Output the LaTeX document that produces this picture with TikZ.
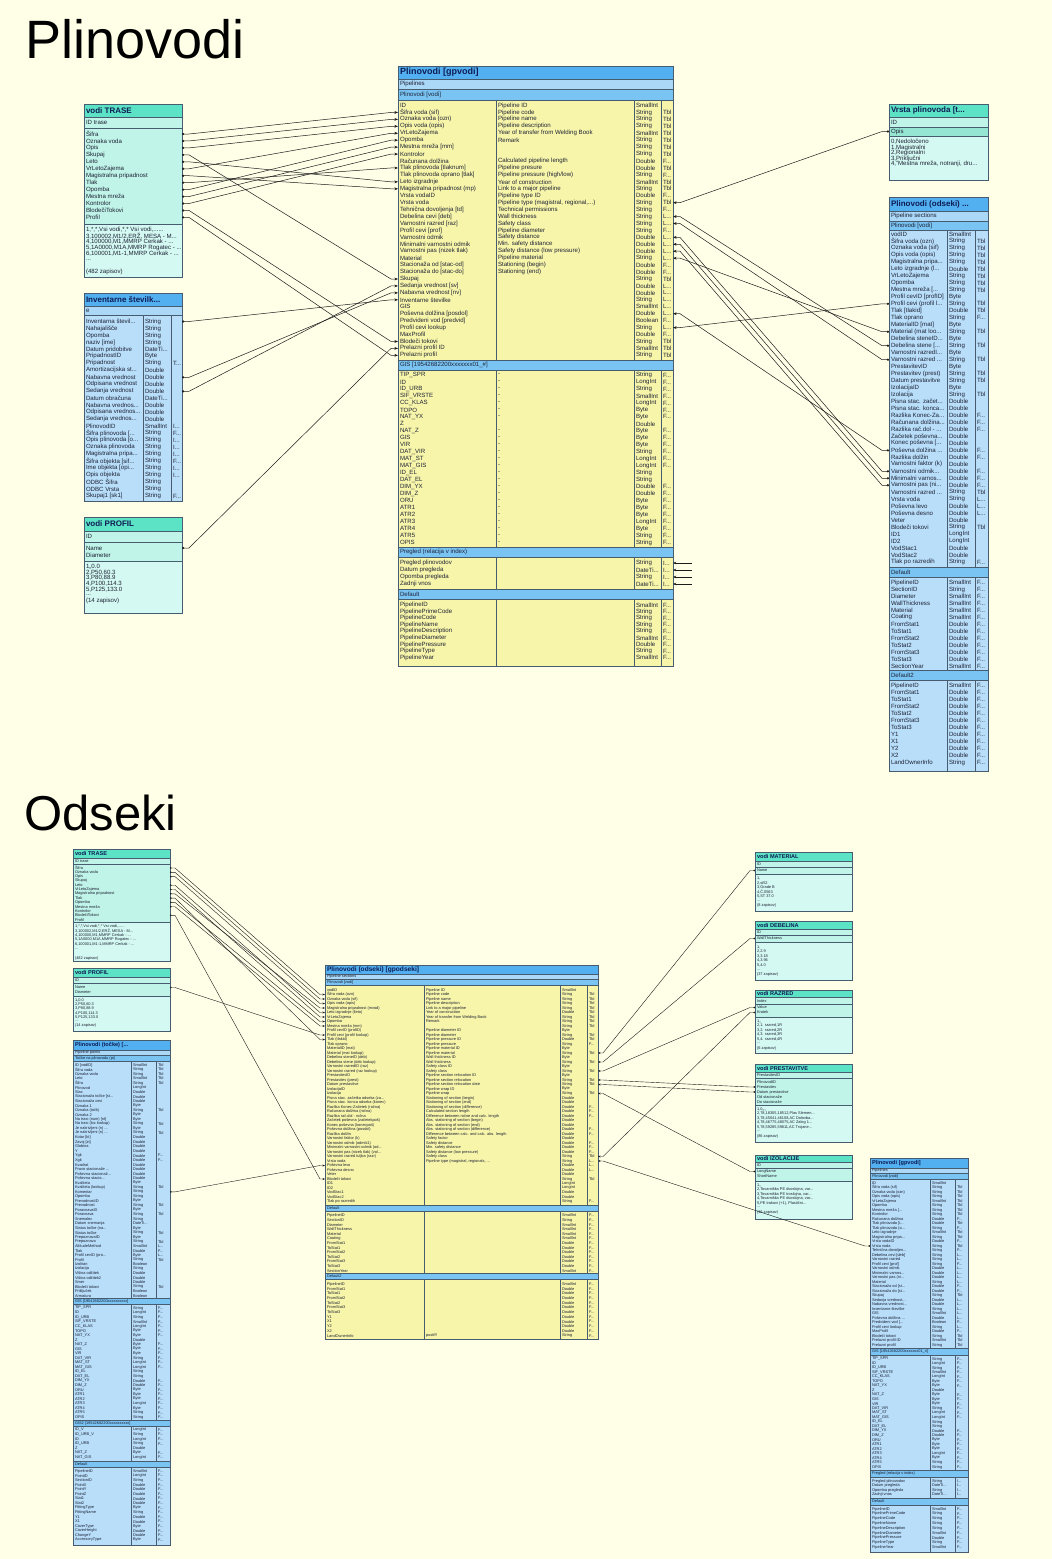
\documentclass[tikz,border=0pt]{standalone}
\usepackage{fontspec}
\setmainfont{Liberation Sans}
\usetikzlibrary{arrows.meta,calc}

\definecolor{paper}{RGB}{255,254,231}
\definecolor{edge}{RGB}{72,92,112}
\definecolor{wire}{RGB}{28,28,28}
\definecolor{tealhead}{RGB}{92,226,196}
\definecolor{tealbody}{RGB}{192,244,232}
\definecolor{tealsel}{RGB}{150,230,212}
\definecolor{tealdata}{RGB}{212,249,242}
\definecolor{bluehead}{RGB}{82,176,240}
\definecolor{bluelight}{RGB}{172,216,248}
\definecolor{bluesect}{RGB}{122,196,244}
\definecolor{bluebody}{RGB}{184,222,250}
\definecolor{yelbody}{RGB}{247,245,170}
\definecolor{navy}{RGB}{14,28,84}
\definecolor{ink}{RGB}{30,34,52}

\newcommand\trunc{...}
\newcommand\fldsize{6.1}
\newcommand\ttlsize{8.5}

\tikzset{
  fld/.style={anchor=west,inner sep=0pt,outer sep=0pt,text=ink,
    font=\fontsize{\fldsize}{\fldsize}\selectfont},
  ttl/.style={anchor=west,inner sep=0pt,outer sep=0pt,text=navy,
    font=\bfseries\fontsize{\ttlsize}{\ttlsize}\selectfont},
  band/.style={draw=edge,line width=0.5pt,inner sep=0pt,outer sep=0pt},
  colline/.style={draw=edge,line width=0.45pt},
  link/.style={draw=wire,line width=0.5pt},
  toL/.style={link,{Circle[length=2.2pt]}-{Stealth[length=3.6pt,width=2.8pt]}},
  toR/.style={link,{Stealth[length=3.6pt,width=2.8pt]}-{Circle[length=2.2pt]}},
  stoL/.style={link,line width=0.4pt,{Circle[length=1.6pt]}-{Stealth[length=2.6pt,width=2pt]}},
  stoR/.style={link,line width=0.4pt,{Stealth[length=2.6pt,width=2pt]}-{Circle[length=1.6pt]}},
}

% a filled, framed strip of a table
\newcommand\band[6]{%
  \node[band,fill=#6,minimum width={(#4-#2)*1pt},minimum height={(#5-#3)*1pt}]
    (#1) at ({(#2+#4)/2},{(#3+#5)/2}) {};}
% strip with a bold caption
\newcommand\bandt[7]{\band{#1}{#2}{#3}{#4}{#5}{#6}%
  \node[ttl] (#1-txt) at ([xshift=2pt]#1.west) {#7};}
% strip with a plain caption
\newcommand\bandl[7]{\band{#1}{#2}{#3}{#4}{#5}{#6}%
  \node[fld] (#1-txt) at ([xshift=2pt]#1.west) {#7};}
% column rules
\newcommand\cols[3]{\foreach \cx in {#3}{\draw[colline] (\cx,#1) -- (\cx,#2);}}

% field rows: one, three or four columns
\newcommand\rowsA[5]{%
  \foreach \ra [count=\ri] in {#5}{%
    \node[fld] (#1-\ri) at (#2,{#3+(\ri-1)*#4}) {\ra};}}
\newcommand\rowsC[7]{%
  \foreach \ra/\rb/\rc [count=\ri] in {#7}{%
    \pgfmathsetmacro\ry{#5+(\ri-1)*#6}%
    \node[fld] (#1-\ri) at (#2,\ry) {\ra};
    \node[fld] (#1-\ri-t) at (#3,\ry) {\rb};
    \node[fld] (#1-\ri-f) at (#4,\ry) {\rc};}}
\newcommand\rowsCm[7]{%
  \foreach \ra/\rb/\rc [count=\ri] in #7{%
    \pgfmathsetmacro\ry{#5+(\ri-1)*#6}%
    \node[fld] (#1-\ri) at (#2,\ry) {\ra};
    \node[fld] (#1-\ri-t) at (#3,\ry) {\rb};
    \node[fld] (#1-\ri-f) at (#4,\ry) {\rc};}}
\newcommand\rowsD[8]{%
  \foreach \ra/\rb/\rc/\rd [count=\ri] in {#8}{%
    \pgfmathsetmacro\ry{#6+(\ri-1)*#7}%
    \node[fld] (#1-\ri) at (#2,\ry) {\ra};
    \node[fld] (#1-\ri-d) at (#3,\ry) {\rb};
    \node[fld] (#1-\ri-t) at (#4,\ry) {\rc};
    \node[fld] (#1-\ri-f) at (#5,\ry) {\rd};}}

% relationship line with short horizontal stubs at both tables
\newcommand\wire[4][7]{\draw[#2] (#3) -- ++(#1,0) -- ($(#4)+(-#1,0)$) -- (#4);}

% shared field lists
\newcommand\gisrows{TIP\_SPR/String/F\trunc, ID/LongInt/F\trunc, ID\_URB/String/F\trunc,
  SIF\_VRSTE/SmallInt/F\trunc, CC\_KLAS/LongInt/F\trunc, TOPO/Byte/F\trunc,
  NAT\_YX/Byte/F\trunc, Z/Double/{}, NAT\_Z/Byte/F\trunc, GIS/Byte/F\trunc,
  VIR/Byte/F\trunc, DAT\_VIR/String/F\trunc, MAT\_ST/LongInt/F\trunc,
  MAT\_GIS/LongInt/F\trunc, ID\_EL/String/{}, DAT\_EL/String/{},
  DIM\_YX/Double/F\trunc, DIM\_Z/Double/F\trunc, ORU/Byte/F\trunc,
  ATR1/Byte/F\trunc, ATR2/Byte/F\trunc, ATR3/LongInt/F\trunc,
  ATR4/Byte/F\trunc, ATR5/String/F\trunc, OPIS/String/F\trunc}

\begin{document}
\begin{tikzpicture}[x=1pt,y=-1pt]
\useasboundingbox (0,0) rectangle (1052,1559);
\fill[paper] (0,0) rectangle (1052,1559);

\node[anchor=base west,inner sep=0pt,font=\fontsize{54}{54}\selectfont] (plinTitle) at (25,58) {Plinovodi};
\node[anchor=base west,inner sep=0pt,font=\fontsize{49}{49}\selectfont] (odsTitle) at (24,830) {Odseki};

%================ upper diagram ================
%---- Plinovodi [gpvodi]
\renewcommand\ttlsize{9}
\bandt{gpH}{398}{66}{673}{79}{bluehead}{Plinovodi [gpvodi]}
\bandl{gpP}{398}{79}{673}{89}{bluelight}{Pipelines}
\bandl{gpS}{398}{89}{673}{100}{bluesect}{Plinovodi [vodi]}
\band{gpA}{398}{100}{673}{360}{yelbody}
\cols{100}{360}{496,634,661}
\rowsD{gp}{400}{498}{636}{663}{105.5}{6.94}{
 ID/Pipeline ID/SmallInt/{},
 Šifra voda (sif)/Pipeline code/String/Tbl,
 Oznaka voda (ozn)/Pipeline name/String/Tbl,
 Opis voda (opis)/Pipeline description/String/Tbl,
 VrLetoZajema/Year of transfer from Welding Book/SmallInt/Tbl,
 Opomba/Remark/String/Tbl,
 Mestna mreža [mm]/{}/String/Tbl,
 Kontrolor/{}/String/Tbl,
 Računana dolžina/Calculated pipeline length/Double/F\trunc,
 Tlak plinovoda [tlaknum]/Pipeline presure/Double/Tbl,
 Tlak plinovoda oprano [tlak]/Pipeline pressure (high\slash low)/String/F\trunc,
 Leto izgradnje/Year of construction/SmallInt/Tbl,
 Magistralna pripadnost (mp)/Link to a major pipeline/String/Tbl,
 Vrsta vodaID/Pipeline type ID/Double/F\trunc,
 Vrsta voda/Pipeline type (magistral{,} regional{,}\trunc)/String/Tbl,
 Tehnična dovoljenja [td]/Technical permissions/String/F\trunc,
 Debelina cevi [deb]/Wall thickness/String/L\trunc,
 Varnostni razred [raz]/Safety class/String/L\trunc,
 Profil cevi [prof]/Pipeline diameter/String/F\trunc,
 Varnostni odmik/Safety distance/Double/L\trunc,
 Minimalni varnostni odmik/Min. safety distance/Double/L\trunc,
 Varnostni pas (nizek tlak)/Safety distance (low pressure)/Double/L\trunc,
 Material/Pipeline material/String/L\trunc,
 Stacionaža od [stac-od]/Stationing (begin)/Double/F\trunc,
 Stacionaža do [stac-do]/Stationing (end)/Double/F\trunc,
 Skupaj/{}/String/Tbl,
 Sedanja vrednost [sv]/{}/Double/L\trunc,
 Nabavna vrednost [nv]/{}/Double/L\trunc,
 Inventarne številke/{}/String/L\trunc,
 GIS/{}/SmallInt/L\trunc,
 Poševna dolžina [posdol]/{}/Double/L\trunc,
 Predvideni vod [predvid]/{}/Boolean/F\trunc,
 Profil cevi lookup/{}/String/L\trunc,
 MaxProfil/{}/Double/F\trunc,
 Blodeči tokovi/{}/String/Tbl,
 Prelazni profil ID/{}/SmallInt/Tbl,
 Prelazni profil/{}/String/Tbl}
\bandl{gpG}{398}{360}{673}{370}{bluesect}{GIS [19542682200xxxxxxx01\_\#]}
\band{gpB}{398}{370}{673}{547}{yelbody}
\cols{370}{547}{496,634,661}
\rowsD{gs}{400}{498}{636}{663}{375}{6.98}{
 TIP\_SPR/-/String/F\trunc, ID/-/LongInt/F\trunc, ID\_URB/-/String/F\trunc,
 SIF\_VRSTE/-/SmallInt/F\trunc, CC\_KLAS/-/LongInt/F\trunc, TOPO/-/Byte/F\trunc,
 NAT\_YX/-/Byte/F\trunc, Z/{}/Double/{}, NAT\_Z/-/Byte/F\trunc, GIS/-/Byte/F\trunc,
 VIR/-/Byte/F\trunc, DAT\_VIR/-/String/F\trunc, MAT\_ST/-/LongInt/F\trunc,
 MAT\_GIS/-/LongInt/F\trunc, ID\_EL/-/String/{}, DAT\_EL/-/String/{},
 DIM\_YX/-/Double/F\trunc, DIM\_Z/-/Double/F\trunc, ORU/-/Byte/F\trunc,
 ATR1/-/Byte/F\trunc, ATR2/-/Byte/F\trunc, ATR3/-/LongInt/F\trunc,
 ATR4/-/Byte/F\trunc, ATR5/-/String/F\trunc, OPIS/-/String/F\trunc}
\bandl{gpR}{398}{547}{673}{557}{bluesect}{Pregled (relacija v index)}
\band{gpC}{398}{557}{673}{589}{yelbody}
\cols{557}{589}{496,634,661}
\rowsD{pg}{400}{498}{636}{663}{563}{7}{
 Pregled plinovodov/{}/String/I\trunc, Datum pregleda/{}/DateTi\trunc/I\trunc,
 Opomba pregleda/{}/String/I\trunc, Zadnji vnos/{}/DateTi\trunc/I\trunc}
\bandl{gpD}{398}{589}{673}{599}{bluesect}{Default}
\band{gpE}{398}{599}{673}{666}{yelbody}
\cols{599}{666}{496,634,661}
\rowsD{df}{400}{498}{636}{663}{605}{6.6}{
 PipelineID/{}/SmallInt/F\trunc, PipelinePrimeCode/{}/String/F\trunc,
 PipelineCode/{}/String/F\trunc, PipelineName/{}/String/F\trunc,
 PipelineDescription/{}/String/F\trunc, PipelineDiameter/{}/SmallInt/F\trunc,
 PipelinePressure/{}/Double/F\trunc, PipelineType/{}/String/F\trunc,
 PipelineYear/{}/SmallInt/F\trunc}

%---- vodi TRASE
\renewcommand\ttlsize{8}
\bandt{trH}{84}{104}{182}{117}{tealhead}{vodi TRASE}
\bandl{trI}{84}{117}{182}{128}{tealbody}{ID trase}
\band{trA}{84}{128}{182}{224}{tealbody}
\rowsA{tr}{86}{134}{6.95}{Šifra, Oznaka voda, Opis, Skupaj, Leto, VrLetoZajema,
 Magistralna pripadnost, Tlak, Opomba, Mestna mreža, Kontrolor, BlodečiTokovi, Profil}
\band{trD}{84}{224}{182}{277}{tealdata}
\rowsA{trd}{86}{230}{6}{{1,*,*,Vsi vodi,*,* Vsi vodi,\trunc\trunc},
 {3,100002,M1/2,ERŽ, MESA - M\trunc}, {4,100000,M1,MMRP Cerkak - \trunc},
 {5,1A0000,M1A,MMRP Rogatec - \trunc}, {6,100001,M1-1,MMRP Cerkak - \trunc},
 \trunc, {}, (482 zapisov)}

%---- Inventarne številke
\bandt{inH}{84}{293}{182}{306}{bluehead}{Inventarne številk\trunc}
\bandl{inI}{84}{306}{182}{315}{bluelight}{e}
\band{inA}{84}{315}{182}{501}{bluebody}
\cols{315}{501}{143,171}
\rowsC{in}{86}{145}{173}{321.5}{6.98}{
 Inventarna števil\trunc/String/{}, Nahajališče/String/{}, Opomba/String/{},
 naziv [ime]/String/{}, Datum pridobitve/DateTi\trunc/{}, PripadnostID/Byte/{},
 Pripadnost/String/T\trunc, Amortizacijska st\trunc/Double/{},
 Nabavna vrednost/Double/{}, Odpisana vrednost/Double/{}, Sedanja vrednost/Double/{},
 Datum obračuna/DateTi\trunc/{}, Nabavna vrednos\trunc/Double/{},
 Odpisana vrednos\trunc/Double/{}, Sedanja vrednos\trunc/Double/{},
 PlinovodID/SmallInt/I\trunc, Šifra plinovoda [\trunc/String/F\trunc,
 Opis plinovoda [o\trunc/String/I\trunc, Oznaka plinovoda/String/I\trunc,
 Magistralna pripa\trunc/String/I\trunc, Šifra objekta [sif\trunc/String/F\trunc,
 Ime objekta [opi\trunc/String/I\trunc, Opis objekta/String/I\trunc,
 ODBC Šifra/String/{}, ODBC Vrsta/String/{}, Skupaj1 [sk1]/String/F\trunc}

%---- vodi PROFIL
\bandt{prH}{84}{517}{182}{531}{tealhead}{vodi PROFIL}
\bandl{prI}{84}{531}{182}{542}{tealbody}{ID}
\band{prA}{84}{542}{182}{561}{tealbody}
\rowsA{pr}{86}{548}{7}{Name, Diameter}
\band{prD}{84}{561}{182}{613}{tealdata}
\rowsA{prd}{86}{567}{5.6}{{1,,0.0}, {2,P50,60.3}, {3,P80,88.9}, {4,P100,114.3},
 {5,P125,133.0}, \trunc, (14 zapisov)}

%---- Vrsta plinovoda
\bandt{vrH}{889}{104}{988}{117}{tealhead}{Vrsta plinovoda [t\trunc}
\bandl{vrI}{889}{117}{988}{127}{tealbody}{ID}
\bandl{vrO}{889}{127}{988}{136}{tealsel}{Opis}
\band{vrD}{889}{136}{988}{180}{tealdata}
\rowsA{vrd}{891}{142}{5.6}{{0,Nedoločeno}, {1,Magistralni}, {2,Regionalni},
 {3,Priključni}, {4,"Mestna mreža, notranji, dru\trunc}}

%---- Plinovodi (odseki)
\bandt{odH}{889}{197}{988}{211}{bluehead}{Plinovodi (odseki) \trunc}
\bandl{odP}{889}{211}{988}{221}{bluelight}{Pipeline sections}
\bandl{odS}{889}{221}{988}{230}{bluesect}{Plinovodi [vodi]}
\band{odA}{889}{230}{988}{567}{bluebody}
\cols{230}{567}{947,975}
\rowsC{od}{891}{949}{977}{234}{6.98}{
 vodID/SmallInt/{}, Šifra voda (ozn)/String/Tbl, Oznaka voda (sif)/String/Tbl,
 Opis voda (opis)/String/Tbl, Magistralna pripa\trunc/String/Tbl,
 Leto izgradnje (l\trunc/Double/Tbl, VrLetoZajema/String/Tbl, Opomba/String/Tbl,
 Mestna mreža [\trunc/String/Tbl, Profil cevID [profID]/Byte/{},
 Profil cevi (profil l\trunc/String/Tbl, Tlak [tlakid]/Double/Tbl,
 Tlak oprano/String/F\trunc, MaterialID [mat]/Byte/{},
 Material (mat loo\trunc/String/Tbl, Debelina steneID\trunc/Byte/{},
 Debelina stene [\trunc/String/Tbl, Varnostni razredI\trunc/Byte/{},
 Varnostni razred \trunc/String/Tbl, PrestavitevID/Byte/{},
 Prestavitev (prest)/String/Tbl, Datum prestavitve/String/Tbl,
 IzolacijaID/Byte/{}, Izolacija/String/Tbl, Pisna stac. začet\trunc/Double/{},
 Pisna stac. konca\trunc/Double/{}, Razlika Konec-Za\trunc/Double/F\trunc,
 Računana dolžina\trunc/Double/F\trunc, Razlika rač.dol - \trunc/Double/F\trunc,
 Začetek poševna\trunc/Double/{}, Konec poševna [\trunc/Double/{},
 Poševna dolžina \trunc/Double/F\trunc, Razlika dolžin/Double/F\trunc,
 Varnostni faktor (k)/Double/{}, Varnostni odmik\trunc/Double/F\trunc,
 Minimalni varnos\trunc/Double/F\trunc, Varnostni pas (ni\trunc/Double/F\trunc,
 Varnostni razred \trunc/String/Tbl, Vrsta voda/String/L\trunc,
 Poševna levo/Double/L\trunc, Poševna desno/Double/L\trunc, Veter/Double/{},
 Blodeči tokovi/String/Tbl, ID1/LongInt/{}, ID2/LongInt/{}, VodStac1/Double/{},
 VodStac2/Double/{}, Tlak po razredih/String/F\trunc}
\bandl{odD}{889}{567}{988}{577}{bluesect}{Default}
\band{odB}{889}{577}{988}{670}{bluebody}
\cols{577}{670}{947,975}
\rowsC{oe}{891}{949}{977}{582.5}{6.95}{
 PipelineID/SmallInt/F\trunc, SectionID/String/F\trunc, Diameter/SmallInt/F\trunc,
 WallThickness/SmallInt/F\trunc, Material/SmallInt/F\trunc, Coating/SmallInt/F\trunc,
 FromStat1/Double/F\trunc, ToStat1/Double/F\trunc, FromStat2/Double/F\trunc,
 ToStat2/Double/F\trunc, FromStat3/Double/F\trunc, ToStat3/Double/F\trunc,
 SectionYear/SmallInt/F\trunc}
\bandl{odE}{889}{670}{988}{680}{bluesect}{Default2}
\band{odC}{889}{680}{988}{771}{bluebody}
\cols{680}{771}{947,975}
\rowsC{of}{891}{949}{977}{685.5}{7}{
 PipelineID/SmallInt/F\trunc, FromStat1/Double/F\trunc, ToStat1/Double/F\trunc,
 FromStat2/Double/F\trunc, ToStat2/Double/F\trunc, FromStat3/Double/F\trunc,
 ToStat3/Double/F\trunc, Y1/Double/F\trunc, X1/Double/F\trunc, Y2/Double/F\trunc,
 X2/Double/F\trunc, LandOwnerInfo/String/F\trunc}

%---- relationships, upper diagram
\wire{toL}{trA.east |- tr-1}{gpA.west |- gp-2}
\wire{toL}{trA.east |- tr-2}{gpA.west |- gp-3}
\wire{toL}{trA.east |- tr-3}{gpA.west |- gp-4}
\wire{toL}{trA.east |- tr-4}{gpA.west |- gp-26}
\wire{toL}{trA.east |- tr-5}{gpA.west |- gp-12}
\wire{toL}{trA.east |- tr-6}{gpA.west |- gp-5}
\wire{toL}{trA.east |- tr-7}{gpA.west |- gp-13}
\wire{toL}{trA.east |- tr-8}{gpA.west |- gp-10}
\wire{toL}{trA.east |- tr-9}{gpA.west |- gp-6}
\wire{toL}{trA.east |- tr-10}{gpA.west |- gp-7}
\wire{toL}{trA.east |- tr-11}{gpA.west |- gp-8}
\wire{toL}{trA.east |- tr-12}{gpA.west |- gp-35}
\wire{toL}{trA.east |- tr-13}{gpA.west |- gp-37}
\wire{toL}{inA.east |- in-1}{gpA.west |- gp-29}
\wire{toL}{inA.east |- in-9}{gpA.west |- gp-28}
\wire{toL}{inA.east |- in-11}{gpA.west |- gp-27}
\wire{toL}{prA.east |- pr-1}{gpA.west |- gp-36}
\wire{toR}{gpA.east |- gp-15}{vrO.west}
\wire{toR}{gpA.east |- gp-17}{odA.west |- od-17}
\wire{toR}{gpA.east |- gp-18}{odA.west |- od-19}
\wire{toR}{gpA.east |- gp-20}{odA.west |- od-35}
\wire{toR}{gpA.east |- gp-21}{odA.west |- od-36}
\wire{toR}{gpA.east |- gp-22}{odA.west |- od-37}
\wire{toR}{gpA.east |- gp-23}{odA.west |- od-15}
\wire{toR}{gpA.east |- gp-31}{odA.west |- od-32}
\wire{toR}{gpA.east |- gp-33}{odA.west |- od-11}
\foreach \k in {1,...,4}{
  \coordinate (pgEnd\k) at ($(gpC.east |- pg-\k)+(19,0)$);
  \draw[link,{Stealth[length=3.2pt,width=2.6pt]}-] (gpC.east |- pg-\k) -- (pgEnd\k);}

%================ lower diagram ================
\renewcommand\fldsize{3.9}
\renewcommand\ttlsize{5.6}

%---- vodi TRASE
\bandt{btH}{73}{849}{170}{858}{tealhead}{vodi TRASE}
\bandl{btI}{73}{858}{170}{864}{tealbody}{ID trase}
\band{btA}{73}{864}{170}{922}{tealbody}
\rowsA{bt}{75}{868}{4.3}{Šifra, Oznaka voda, Opis, Skupaj, Leto, VrLetoZajema,
 Magistralna pripadnost, Tlak, Opomba, Mestna mreža, Kontrolor, BlodečiTokovi, Profil}
\band{btD}{73}{922}{170}{961}{tealdata}
\rowsA{btd}{75}{926}{4.6}{{1,*,*,Vsi vodi,*,* Vsi vodi,\trunc\trunc},
 {3,100002,M1/2,ERŽ, MESA - M\trunc}, {4,100000,M1,MMRP Cerkak - \trunc},
 {5,1A0000,M1A,MMRP Rogatec - \trunc}, {6,100001,M1-1,MMRP Cerkak - \trunc},
 \trunc, {}, (482 zapisov)}

%---- vodi PROFIL
\bandt{bpH}{73}{968}{170}{977}{tealhead}{vodi PROFIL}
\bandl{bpI}{73}{977}{170}{983}{tealbody}{ID}
\band{bpA}{73}{983}{170}{996}{tealbody}
\rowsA{bp}{75}{987.5}{4.5}{Name, Diameter}
\band{bpD}{73}{996}{170}{1031}{tealdata}
\rowsA{bpd}{75}{1000}{4.3}{{1,,0.0}, {2,P50,60.3}, {3,P80,88.9}, {4,P100,114.3},
 {5,P125,133.0}, \trunc, (14 zapisov)}

%---- Plinovodi (točke)
\bandt{ptH}{73}{1040}{170}{1050}{bluehead}{Plinovodi (točke) [\trunc}
\bandl{ptP}{73}{1050}{170}{1055}{bluelight}{Pipeline points}
\bandl{ptS}{73}{1055}{170}{1061}{bluesect}{Točke na plinovodu (pt)}
\band{ptA}{73}{1061}{170}{1298}{bluebody}
\cols{1061}{1298}{131,156}
\rowsC{pt}{75}{133}{158}{1065}{4.53}{
 ID [vodID]/SmallInt/Tbl, Šifra voda/String/Tbl, Oznaka voda/String/Tbl,
 Leto/SmallInt/Tbl, Šifra/String/Tbl, Plinovod/LongInt/{}, Stac/Double/{},
 Stacionaža točke [st\trunc/Double/{}, Stacionaža cevi/Double/{}, Oznaka 1/Byte/{},
 Oznaka (točk)/String/Tbl, Oznaka 2/Byte/{}, Na trasi (num) [nt]/Byte/{},
 Na trasi (loc lookup)/String/Tbl, Je nakrivljeni (n) \trunc/Byte/{},
 Je nakrivljeni (n) \trunc/String/Tbl, Kotar [kt]/Double/{}, Zavoj [zt]/Double/{},
 Globina/Double/{}, Y/Double/{}, Ygk/Double/F\trunc, Xgk/Double/F\trunc,
 Kvadrat/Double/{}, Pravo stacionaže \trunc/Double/{},
 Poševna stacionaž\trunc/Double/{}, Poševna stacio\trunc/Double/{},
 Kvaliteta/Byte/{}, Kvaliteta (lookup)/String/Tbl, Komentar/String/{},
 Opomba/String/{}, PrevodnostID/Byte/{}, Prevodnost/String/Tbl,
 PoravnavaID/Byte/{}, Poravnava/String/Tbl, Snemalec/String/{},
 Datum snemanja/DateTi\trunc/{}, Status točke (na\trunc/Byte/{},
 Status točke/String/Tbl, PrepoznavaID/Byte/{}, Prepoznava/String/Tbl,
 AltitudeMethod/SmallInt/L\trunc, Tlak/Double/F\trunc,
 Profil cevID (pro\trunc/Byte/L\trunc, Profil/String/Tbl, Izoliran/Boolean/{},
 Izolacija/String/{}, Višina odčitek/Double/{}, Višina odčitek2/Double/{},
 Smer/Double/{}, Blodeči tokovi/String/Tbl, Priključek/Boolean/{},
 Armatura/Boolean/{}}
\bandl{ptG}{73}{1298}{170}{1304}{bluesect}{GIS [19542682200xxxxxxxxxx]}
\band{ptB}{73}{1304}{170}{1420}{bluebody}
\cols{1304}{1420}{131,156}
\rowsCm{pu}{75}{133}{158}{1308}{4.55}{\gisrows}
\bandl{ptK}{73}{1420}{170}{1426}{bluesect}{GIS2 [19542682200xxxxxxxxxx]}
\band{ptC}{73}{1426}{170}{1461}{bluebody}
\cols{1426}{1461}{131,156}
\rowsC{pv}{75}{133}{158}{1430}{4.6}{
 ID\_V/LongInt/F\trunc, ID\_URB\_V/String/F\trunc, ID/LongInt/F\trunc,
 ID\_URB/String/F\trunc, Z/Double/{}, NAT\_Z/Byte/F\trunc, NAT\_GIS/LongInt/F\trunc}
\bandl{ptD}{73}{1461}{170}{1467}{bluesect}{Default}
\band{ptE}{73}{1467}{170}{1545}{bluebody}
\cols{1467}{1545}{131,156}
\rowsC{pw}{75}{133}{158}{1471}{4.6}{
 PipelineID/SmallInt/F\trunc, PointID/LongInt/F\trunc, SectionID/String/F\trunc,
 PointX/Double/F\trunc, PointY/Double/F\trunc, PointZ/Double/F\trunc,
 Stat1/Double/F\trunc, Stat2/Double/F\trunc, FittingType/Byte/F\trunc,
 FittingName/String/F\trunc, Y1/Double/F\trunc, X1/Double/F\trunc,
 CoverType/Byte/F\trunc, CoverHeight/Double/F\trunc, ChangeY/Double/F\trunc,
 AccessoryType/Byte/F\trunc}

%---- Plinovodi (odseki) [gpodseki]
\renewcommand\ttlsize{6.6}
\bandt{boH}{325}{965}{598}{974}{bluehead}{Plinovodi (odseki) [gpodseki]}
\bandl{boP}{325}{974}{598}{979}{bluelight}{Pipeline sections}
\bandl{boS}{325}{979}{598}{985}{bluesect}{Plinovodi [vodi]}
\band{boA}{325}{985}{598}{1205}{yelbody}
\cols{985}{1205}{424,560,587}
\rowsD{bo}{327}{426}{562}{589}{990}{4.5}{
 vodID/Pipeline ID/SmallInt/{},
 Šifra voda (ozn)/Pipeline code/String/Tbl,
 Oznaka voda (sif)/Pipeline name/String/Tbl,
 Opis voda (opis)/Pipeline description/String/Tbl,
 Magistralna pripadnost (mvod)/Link to a major pipeline/String/Tbl,
 Leto izgradnje (lleto)/Year of construction/Double/Tbl,
 VrLetoZajema/Year of transfer from Welding Book/String/Tbl,
 Opomba/Remark/String/Tbl,
 Mestna mreža (mm)/{}/String/Tbl,
 Profil cevID (profID)/Pipeline diameter ID/Byte/{},
 Profil cevi (profil lookup)/Pipeline diameter/String/Tbl,
 Tlak (tlakid)/Pipeline pressure ID/Double/Tbl,
 Tlak oprano/Pipeline pressure/String/F\trunc,
 MaterialID (mat)/Pipeline material ID/Byte/{},
 Material (mat lookup)/Pipeline material/String/Tbl,
 Debelina steneID (deb)/Wall thickness ID/Byte/{},
 Debelina stene (deb lookup)/Wall thickness/String/Tbl,
 Varnostni razredID (raz)/Safety class ID/Byte/{},
 Varnostni razred (raz lookup)/Safety class/String/Tbl,
 PrestavitevID/Pipeline section relocation ID/Byte/{},
 Prestavitev (prest)/Pipeline section relocation/String/Tbl,
 Datum prestavitve/Pipeline section relocation date/String/Tbl,
 IzolacijaID/Pipeline wrap ID/Byte/{},
 Izolacija/Pipeline wrap/String/Tbl,
 Pisna stac. začetka odseka (za\trunc/Stationing of section (begin)/Double/{},
 Pisna stac. konca odseka (konec)/Stationing of section (end)/Double/{},
 Razlika Konec-Začetek (ročna)/Stationing of section (difference)/Double/F\trunc,
 Računana dolžina (ročna)/Calculated section length/Double/F\trunc,
 Razlika rač.dol - ročna/Difference between ročne and calc. length/Double/F\trunc,
 Začetek poševna (začetekpoš)/Abs. stationing of section (begin)/Double/{},
 Konec poševna (konecpoš)/Abs. stationing of section (end)/Double/{},
 Poševna dolžina (posdol)/Abs. stationing of section (difference)/Double/F\trunc,
 Razlika dolžin/Difference between calc. and calc. abs. length/Double/F\trunc,
 Varnostni faktor (k)/Safety factor/Double/{},
 Varnostni odmik (odmik1)/Safety distance/Double/F\trunc,
 Minimalni varnostni odmik (od\trunc/Min. safety distance/Double/F\trunc,
 Varnostni pas (nizek tlak) (vol\trunc/Safety distance (low pressure)/Double/F\trunc,
 Varnostni razred tuljba (razr)/Safety class/String/Tbl,
 Vrsta voda/Pipeline type (magistral{,} regionals{,} \trunc/String/L\trunc,
 Poševna levo/{}/Double/L\trunc, Poševna desno/{}/Double/L\trunc,
 Veter/{}/Double/{}, Blodeči tokovi/{}/String/Tbl, ID1/{}/LongInt/{},
 ID2/{}/LongInt/{}, VodStac1/{}/Double/{}, VodStac2/{}/Double/{},
 Tlak po razredih/{}/String/F\trunc}
\bandl{boD}{325}{1205}{598}{1211}{bluesect}{Default}
\band{boB}{325}{1211}{598}{1273}{yelbody}
\cols{1211}{1273}{424,560,587}
\rowsD{be}{327}{426}{562}{589}{1215.5}{4.6}{
 PipelineID/{}/SmallInt/F\trunc, SectionID/{}/String/F\trunc,
 Diameter/{}/SmallInt/F\trunc, WallThickness/{}/SmallInt/F\trunc,
 Material/{}/SmallInt/F\trunc, Coating/{}/SmallInt/F\trunc,
 FromStat1/{}/Double/F\trunc, ToStat1/{}/Double/F\trunc,
 FromStat2/{}/Double/F\trunc, ToStat2/{}/Double/F\trunc,
 FromStat3/{}/Double/F\trunc, ToStat3/{}/Double/F\trunc,
 SectionYear/{}/SmallInt/F\trunc}
\bandl{boE}{325}{1273}{598}{1279}{bluesect}{Default2}
\band{boC}{325}{1279}{598}{1339}{yelbody}
\cols{1279}{1339}{424,560,587}
\rowsD{bf}{327}{426}{562}{589}{1284}{4.7}{
 PipelineID/{}/SmallInt/F\trunc, FromStat1/{}/Double/F\trunc,
 ToStat1/{}/Double/F\trunc, FromStat2/{}/Double/F\trunc,
 ToStat2/{}/Double/F\trunc, FromStat3/{}/Double/F\trunc,
 ToStat3/{}/Double/F\trunc, Y1/{}/Double/F\trunc, X1/{}/Double/F\trunc,
 Y2/{}/Double/F\trunc, X2/{}/Double/F\trunc, LandOwnerInfo/pusti!!!/String/F\trunc}

%---- lookup tables on the right
\renewcommand\ttlsize{5.6}
\bandt{maH}{755}{852}{852}{861}{tealhead}{vodi MATERIAL}
\bandl{maI}{755}{861}{852}{867}{tealbody}{ID}
\bandl{maN}{755}{867}{852}{874}{tealbody}{Name}
\band{maD}{755}{874}{852}{911}{tealdata}
\rowsA{mad}{757}{878.5}{4.5}{1{,}, {2,st52}, {3,Grade B}, {4,Č.0563}, {5,ST 37.0},
 \trunc, (8 zapisov)}

\bandt{deH}{755}{921}{852}{929}{tealhead}{vodi DEBELINA}
\bandl{deI}{755}{929}{852}{935}{tealbody}{ID}
\bandl{deW}{755}{935}{852}{942}{tealbody}{WallThickness}
\band{deD}{755}{942}{852}{980}{tealdata}
\rowsA{ded}{757}{947}{4.6}{1{,}, {2,2.9}, {3,3.18}, {4,3.96}, {5,4.0}, \trunc,
 (37 zapisov)}

\bandt{raH}{755}{990}{852}{997.5}{tealhead}{vodi RAZRED}
\bandl{raI}{755}{997.5}{852}{1004}{tealbody}{Index}
\band{raA}{755}{1004}{852}{1017}{tealbody}
\rowsA{ra}{757}{1007.5}{5}{Value, Kratek}
\band{raD}{755}{1017}{852}{1053}{tealdata}
\rowsA{rad}{757}{1021}{4.5}{1{,}{,}, {2,1. razred,1R}, {3,2. razred,2R},
 {4,3. razred,3R}, {5,4. razred,4R}, \trunc, (6 zapisov)}

\bandt{psH}{755}{1064}{852}{1072}{tealhead}{vodi PRESTAVITVE}
\bandl{psI}{755}{1072}{852}{1078}{tealbody}{PrestavitevID}
\band{psA}{755}{1078}{852}{1105}{tealbody}
\rowsA{ps}{757}{1082}{5}{PlinovodID, Prestavitev, Datum prestavitve, Od stacionaže,
 Do stacionaže}
\band{psD}{755}{1105}{852}{1142}{tealdata}
\rowsA{psd}{757}{1109}{4.5}{{1,0,,,,,}, {2,78,18305,18512,Plas Slemen\trunc},
 {3,78,45041,46108,AC Dolovba\trunc}, {4,78,46775,48075,AC Zalog 1\trunc},
 {5,78,59285,59811,AC Trojane\trunc}, \trunc, (86 zapisov)}

\bandt{izH}{755}{1155}{852}{1162}{tealhead}{vodi IZOLACIJE}
\bandl{izI}{755}{1162}{852}{1168}{tealbody}{ID}
\band{izA}{755}{1168}{852}{1181}{tealbody}
\rowsA{iz}{757}{1171.5}{5}{LongName, ShortName}
\band{izD}{755}{1181}{852}{1219}{tealdata}
\rowsA{izd}{757}{1185}{4.5}{1{,}{,}, {2,Tovarniška PE dvoslojna, var\trunc},
 {3,Tovarniška PE troslojna, var\trunc}, {4,Tovarniška PE dvoslojna, var\trunc},
 {5,PE trakovi (+1), Plastični\trunc}, \trunc, (16 zapisov)}

%---- Plinovodi [gpvodi], reduced copy
\bandt{sgH}{870}{1158}{968}{1168}{bluehead}{Plinovodi [gpvodi]}
\bandl{sgP}{870}{1168}{968}{1173}{bluelight}{Pipelines}
\bandl{sgS}{870}{1173}{968}{1179}{bluesect}{Plinovodi [vodi]}
\band{sgA}{870}{1179}{968}{1348}{bluebody}
\cols{1179}{1348}{930,955}
\rowsC{sg}{872}{932}{957}{1183}{4.5}{
 ID/SmallInt/{}, Šifra voda (sif)/String/Tbl, Oznaka voda (ozn)/String/Tbl,
 Opis voda (opis)/String/Tbl, VrLetoZajema/SmallInt/Tbl, Opomba/String/Tbl,
 Mestna mreža [\trunc/String/Tbl, Kontrolor/String/Tbl,
 Računana dolžina/Double/F\trunc, Tlak plinovoda [t\trunc/Double/Tbl,
 Tlak plinovoda (o\trunc/String/F\trunc, Leto izgradnje/SmallInt/Tbl,
 Magistralna pripa\trunc/String/Tbl, Vrsta vodaID/Double/F\trunc,
 Vrsta voda/String/Tbl, Tehnična dovoljen\trunc/String/F\trunc,
 Debelina cevi [deb]/String/L\trunc, Varnostni razred/String/L\trunc,
 Profil cevi [prof]/String/F\trunc, Varnostni odmik/Double/L\trunc,
 Minimalni varnos\trunc/Double/L\trunc, Varnostni pas (ni\trunc/Double/L\trunc,
 Material/String/L\trunc, Stacionaža od [st\trunc/Double/F\trunc,
 Stacionaža do [st\trunc/Double/F\trunc, Skupaj/String/Tbl,
 Sedanja vrednost\trunc/Double/L\trunc, Nabavna vrednost\trunc/Double/L\trunc,
 Inventarne številke/String/L\trunc, GIS/SmallInt/L\trunc,
 Poševna dolžina \trunc/Double/L\trunc, Predvideni vod [\trunc/Boolean/F\trunc,
 Profil cevi lookup/String/L\trunc, MaxProfil/Double/F\trunc,
 Blodeči tokovi/String/Tbl, Prelazni profil ID/SmallInt/Tbl,
 Prelazni profil/String/Tbl}
\bandl{sgG}{870}{1348}{968}{1355}{bluesect}{GIS [19542682200xxxxxxx01\_\#]}
\band{sgB}{870}{1355}{968}{1470}{bluebody}
\cols{1355}{1470}{930,955}
\rowsCm{sh}{872}{932}{957}{1359}{4.5}{\gisrows}
\bandl{sgR}{870}{1470}{968}{1477}{bluesect}{Pregled (relacija v index)}
\band{sgC}{870}{1477}{968}{1498}{bluebody}
\cols{1477}{1498}{930,955}
\rowsC{si}{872}{932}{957}{1481}{4.5}{
 Pregled plinovodov/String/I\trunc, Datum pregleda/DateTi\trunc/I\trunc,
 Opomba pregleda/String/I\trunc, Zadnji vnos/DateTi\trunc/I\trunc}
\bandl{sgD}{870}{1498}{968}{1505}{bluesect}{Default}
\band{sgE}{870}{1505}{968}{1552}{bluebody}
\cols{1505}{1552}{930,955}
\rowsC{sj}{872}{932}{957}{1509}{4.8}{
 PipelineID/SmallInt/F\trunc, PipelinePrimeCode/String/F\trunc,
 PipelineCode/String/F\trunc, PipelineName/String/F\trunc,
 PipelineDescription/String/F\trunc, PipelineDiameter/SmallInt/F\trunc,
 PipelinePressure/Double/F\trunc, PipelineType/String/F\trunc,
 PipelineYear/SmallInt/F\trunc}

%---- relationships, lower diagram
\wire[5]{stoL}{btA.east |- bt-1}{boA.west |- bo-2}
\wire[5]{stoL}{btA.east |- bt-2}{boA.west |- bo-3}
\wire[5]{stoL}{btA.east |- bt-3}{boA.west |- bo-4}
\wire[5]{stoL}{btA.east |- bt-5}{boA.west |- bo-6}
\wire[5]{stoL}{btA.east |- bt-6}{boA.west |- bo-7}
\wire[5]{stoL}{btA.east |- bt-7}{boA.west |- bo-5}
\wire[5]{stoL}{btA.east |- bt-8}{boA.west |- bo-12}
\wire[5]{stoL}{btA.east |- bt-9}{boA.west |- bo-8}
\wire[5]{stoL}{btA.east |- bt-10}{boA.west |- bo-9}
\wire[5]{stoL}{btA.east |- bt-12}{boA.west |- bo-43}
\wire[5]{stoL}{bpA.east |- bp-1}{boA.west |- bo-11}
\wire[5]{stoL}{ptA.east |- pt-29}{boA.west |- bo-40}
\wire[5]{stoR}{boA.east |- bo-15}{maN.west}
\wire[5]{stoR}{boA.east |- bo-17}{deW.west}
\wire[5]{stoR}{boA.east |- bo-19}{raA.west |- ra-1}
\wire[5]{stoR}{boA.east |- bo-21}{psA.west |- ps-2}
\wire[5]{stoR}{boA.east |- bo-22}{psA.west |- ps-3}
\wire[5]{stoR}{boA.east |- bo-24}{izA.west |- iz-1}
\wire[5]{stoR}{boA.east |- bo-38}{raA.west |- ra-2}
\wire[5]{stoR}{boA.east |- bo-39}{sgA.west |- sg-15}
\end{tikzpicture}
\end{document}
